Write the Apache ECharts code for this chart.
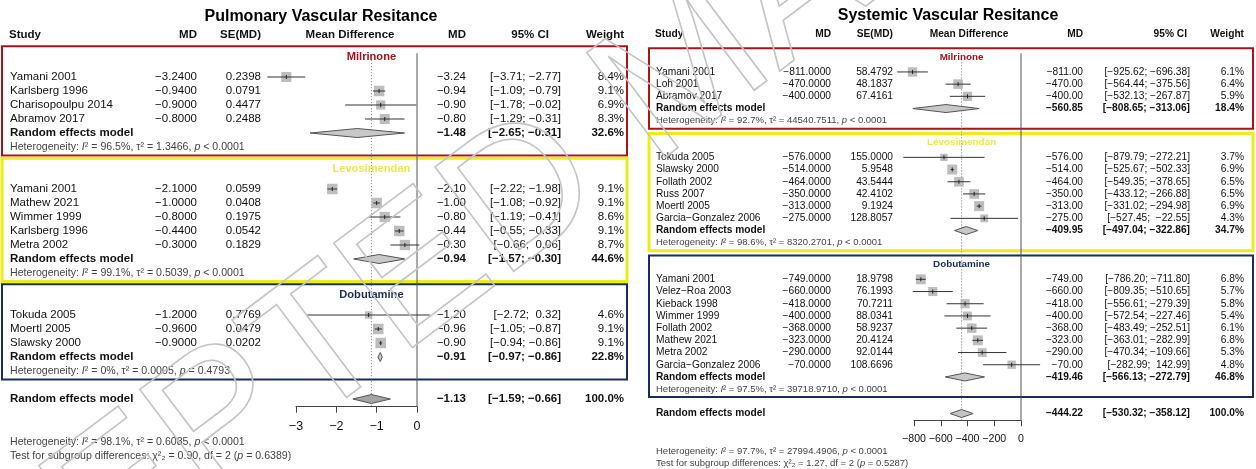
<!DOCTYPE html>
<html><head><meta charset="utf-8">
<script src="https://cdn.jsdelivr.net/npm/echarts@6/dist/echarts.min.js"></script>
<style>html,body{margin:0;padding:0;background:#fff}#c{width:1256px;height:469px}</style>
</head><body><div id="c"></div>
<script>
// ================= DATA =================
const groupNames = ['Milrinone', 'Levosimendan', 'Dobutamine'];

// --- Pulmonary Vascular Resistance ---
const pvrTitle = 'Pulmonary Vascular Resitance';
const pvrStudy = ['Yamani 2001', 'Karlsberg 1996', 'Charisopoulpu 2014', 'Abramov 2017',
  'Yamani 2001', 'Mathew 2021', 'Wimmer 1999', 'Karlsberg 1996', 'Metra 2002',
  'Tokuda 2005', 'Moertl 2005', 'Slawsky 2000'];
const pvrGroup = [0, 0, 0, 0, 1, 1, 1, 1, 1, 2, 2, 2];
const pvrMD = [-3.24, -0.94, -0.90, -0.80, -2.10, -1.00, -0.80, -0.44, -0.30, -1.20, -0.96, -0.90];
const pvrSE = [0.2398, 0.0791, 0.4477, 0.2488, 0.0599, 0.0408, 0.1975, 0.0542, 0.1829, 0.7769, 0.0479, 0.0202];
const pvrLo = [-3.71, -1.09, -1.78, -1.29, -2.22, -1.08, -1.19, -0.55, -0.66, -2.72, -1.05, -0.94];
const pvrHi = [-2.77, -0.79, -0.02, -0.31, -1.98, -0.92, -0.41, -0.33, 0.06, 0.32, -0.87, -0.86];
const pvrWeight = [8.4, 9.1, 6.9, 8.3, 9.1, 9.1, 8.6, 9.1, 8.7, 4.6, 9.1, 9.1];
// pooled: Milrinone, Levosimendan, Dobutamine, overall
const pvrPoolMD = [-1.48, -0.94, -0.91, -1.13];
const pvrPoolLo = [-2.65, -1.57, -0.97, -1.59];
const pvrPoolHi = [-0.31, -0.30, -0.86, -0.66];
const pvrPoolW = [32.6, 44.6, 22.8, 100.0];
const pvrI2 = ['96.5%', '99.1%', '0%', '98.1%'];
const pvrTau2 = ['1.3466', '0.5039', '0.0005', '0.6085'];
const pvrP = ['< 0.0001', '< 0.0001', '= 0.4793', '< 0.0001'];
const pvrSubgroupTest = ['0.90', '2', '0.6389'];
const pvrTicks = [-3, -2, -1, 0];

// --- Systemic Vascular Resistance ---
const svrTitle = 'Systemic Vascular Resitance';
const svrStudy = ['Yamani 2001', 'Loh 2001', 'Abramov 2017',
  'Tokuda 2005', 'Slawsky 2000', 'Follath 2002', 'Russ 2007', 'Moertl 2005', 'Garcia\u2212Gonzalez 2006',
  'Yamani 2001', 'Velez\u2212Roa 2003', 'Kieback 1998', 'Wimmer 1999', 'Follath 2002', 'Mathew 2021', 'Metra 2002', 'Garcia\u2212Gonzalez 2006'];
const svrGroup = [0, 0, 0, 1, 1, 1, 1, 1, 1, 2, 2, 2, 2, 2, 2, 2, 2];
const svrMD = [-811, -470, -400, -576, -514, -464, -350, -313, -275, -749, -660, -418, -400, -368, -323, -290, -70];
const svrSE = [58.4792, 48.1837, 67.4161, 155.0000, 5.9548, 43.5444, 42.4102, 9.1924, 128.8057,
  18.9798, 76.1993, 70.7211, 88.0341, 58.9237, 20.4124, 92.0144, 108.6696];
const svrLo = [-925.62, -564.44, -532.13, -879.79, -525.67, -549.35, -433.12, -331.02, -527.45,
  -786.20, -809.35, -556.61, -572.54, -483.49, -363.01, -470.34, -282.99];
const svrHi = [-696.38, -375.56, -267.87, -272.21, -502.33, -378.65, -266.88, -294.98, -22.55,
  -711.80, -510.65, -279.39, -227.46, -252.51, -282.99, -109.66, 142.99];
const svrWeight = [6.1, 6.4, 5.9, 3.7, 6.9, 6.5, 6.5, 6.9, 4.3, 6.8, 5.7, 5.8, 5.4, 6.1, 6.8, 5.3, 4.8];
const svrPoolMD = [-560.85, -409.95, -419.46, -444.22];
const svrPoolLo = [-808.65, -497.04, -566.13, -530.32];
const svrPoolHi = [-313.06, -322.86, -272.79, -358.12];
const svrPoolW = [18.4, 34.7, 46.8, 100.0];
const svrI2 = ['92.7%', '98.6%', '97.5%', '97.7%'];
const svrTau2 = ['44540.7511', '8320.2701', '39718.9710', '27994.4906'];
const svrP = ['< 0.0001', '< 0.0001', '< 0.0001', '< 0.0001'];
const svrSubgroupTest = ['1.27', '2', '0.5287'];
const svrTicks = [-800, -600, -400, -200, 0];

const watermarkText = 'ACCEPTED MANUSCRIPT';

// ================= STYLE / LAYOUT =================
const FONT = "'Liberation Sans', Arial, Helvetica, sans-serif";
const groupColors = ['#a8141c', '#eded1a', '#1b2e57'];
const groupLabelColors = ['#a0151c', '#eaea4a', '#1b2e57'];
const groupBoxWidth = [2, 3, 2];

const layouts = [
  { y0: 35, unit: 14, first: 3, topOff: -2.2, labelOff: -1.4, botOff: 0.6, hetGap: 3, ovGap: 2, axisOff: 0.55,
    titleRow: -1.29, box: [2, 627], gridLeft: 296, gridWidth: 121, titleX: 321,
    cols: { study: 10, md: 197, se: 261, mdh: 350, md2: 466, ci: 561, cih: 549, w: 624 },
    font: 11.5, hetFont: 10.6, titleFont: 16, tickFont: 12.5, sqMax: 10.5, diaH: 4.5, overallFill: '#a4a4a4', mdDec: 4 },
  { y0: 34, unit: 12.2, first: 3.11, topOff: -1.95, labelOff: -1.23, botOff: 0.65, hetGap: 3, ovGap: 2, axisOff: 0.55,
    titleRow: -1.5, box: [649, 1253], gridLeft: 914, gridWidth: 107, titleX: 948,
    cols: { study: 656, md: 831, se: 893, mdh: 969, md2: 1083, ci: 1190, cih: 1187, w: 1244 },
    font: 10.2, hetFont: 9.5, titleFont: 16, tickFont: 10.6, sqMax: 10, diaH: 4, overallFill: '#c4c4c4', mdDec: 4 }
];

const panels = [
  { title: pvrTitle, study: pvrStudy, group: pvrGroup, md: pvrMD, se: pvrSE, lo: pvrLo, hi: pvrHi, w: pvrWeight,
    pmd: pvrPoolMD, plo: pvrPoolLo, phi: pvrPoolHi, pw: pvrPoolW, i2: pvrI2, tau2: pvrTau2, p: pvrP, sub: pvrSubgroupTest, ticks: pvrTicks },
  { title: svrTitle, study: svrStudy, group: svrGroup, md: svrMD, se: svrSE, lo: svrLo, hi: svrHi, w: svrWeight,
    pmd: svrPoolMD, plo: svrPoolLo, phi: svrPoolHi, pw: svrPoolW, i2: svrI2, tau2: svrTau2, p: svrP, sub: svrSubgroupTest, ticks: svrTicks }
];

// ================= HELPERS =================
const minus = s => String(s).replace(/-/g, '\u2212');
function txt(x, y, s, o) {
  o = o || {};
  const st = {
    text: s, x: x, y: y, fill: o.fill || '#111', fontFamily: FONT, fontSize: o.size,
    fontWeight: o.bold ? 'bold' : 'normal', textAlign: o.align || 'left', textVerticalAlign: 'middle'
  };
  if (o.rich) st.rich = o.rich;
  return { type: 'text', z2: 20, silent: true, style: st };
}
function ciStrings(lo, hi) {
  const L = lo.map(v => minus(v.toFixed(2))), H = hi.map(v => minus(v.toFixed(2)));
  const wl = Math.max(...L.map(s => s.length)), wh = Math.max(...H.map(s => s.length));
  return L.map((s, i) => '[' + s.padStart(wl, ' ') + '; ' + H[i].padStart(wh, ' ') + ']');
}
function hetText(i2, tau2, p) {
  return 'Heterogeneity: {i|I}\u00b2 = ' + i2 + ', \u03c4\u00b2 = ' + tau2 + ', {i|p} ' + p;
}

function buildItems(d, lay) {
  const items = [];
  const nS = d.study.length;
  const ci = ciStrings(d.lo.concat(d.plo), d.hi.concat(d.phi));
  const maxW = Math.max(...d.w);
  const c = lay.cols;
  const F = lay.font;
  const italicRich = { i: { fontStyle: 'italic', fontFamily: FONT, fontSize: lay.hetFont, fill: '#444' } };
  let r = lay.first;
  const gInfo = [];
  for (let g = 0; g < groupNames.length; g++) {
    const idx = d.group.map((v, i) => v === g ? i : -1).filter(i => i >= 0);
    const gi = { top: r + lay.topOff, label: r + lay.labelOff, rows: idx.map((_, k) => r + k), idx: idx };
    gi.rem = r + idx.length; gi.het = gi.rem + 1; gi.bottom = gi.het + lay.botOff;
    gInfo.push(gi);
    r = gi.het + lay.hetGap;
  }
  const ovRow = gInfo[gInfo.length - 1].het + lay.ovGap;
  const axisRow = ovRow + lay.axisOff;
  const ovMD = d.pmd[3];
  const lineTop = gInfo[0].label - 0.3;

  gInfo.forEach((gi, g) => {
    items.push({ row: gi.top, draw: (X, Y) => ({
      type: 'rect', z2: 1, silent: true,
      shape: { x: lay.box[0], y: Y(gi.top), width: lay.box[1] - lay.box[0], height: Y(gi.bottom) - Y(gi.top) },
      style: { fill: 'none', stroke: groupColors[g], lineWidth: groupBoxWidth[g] }
    }) });
  });
  items.push({ row: 0, draw: (X, Y) => ({
    type: 'line', z2: 3, silent: true,
    shape: { x1: X(0), y1: Y(lineTop), x2: X(0), y2: Y(axisRow) },
    style: { stroke: '#555', lineWidth: 1 } }) });
  items.push({ row: 0, draw: (X, Y) => ({
    type: 'line', z2: 3, silent: true,
    shape: { x1: X(ovMD), y1: Y(gInfo[0].label + 0.2), x2: X(ovMD), y2: Y(axisRow) },
    style: { stroke: '#777', lineWidth: 1, lineDash: [1, 2] } }) });

  items.push({ row: lay.titleRow, draw: (X, Y) => txt(lay.titleX, Y(lay.titleRow), d.title, { size: lay.titleFont, bold: true, align: 'center', fill: '#000' }) });
  items.push({ row: 0, draw: (X, Y) => {
    const y = Y(0), o = { size: F, bold: true, fill: '#111' };
    return { type: 'group', children: [
      txt(c.study - 1, y, 'Study', o),
      txt(c.md, y, 'MD', Object.assign({ align: 'right' }, o)),
      txt(c.se, y, 'SE(MD)', Object.assign({ align: 'right' }, o)),
      txt(c.mdh, y, 'Mean Difference', Object.assign({ align: 'center' }, o)),
      txt(c.md2, y, 'MD', Object.assign({ align: 'right' }, o)),
      txt(c.cih, y, '95% CI', Object.assign({ align: 'right' }, o)),
      txt(c.w, y, 'Weight', Object.assign({ align: 'right' }, o))
    ] };
  } });

  gInfo.forEach((gi, g) => {
    items.push({ row: gi.label, draw: (X, Y) => txt(X(ovMD), Y(gi.label), groupNames[g],
      { size: F * 0.97, bold: true, align: 'center', fill: groupLabelColors[g] }) });
    gi.idx.forEach((si, k) => {
      const row = gi.rows[k];
      items.push({ row: row, draw: (X, Y) => {
        const y = Y(row);
        const xm = X(d.md[si]);
        const s = lay.sqMax * Math.sqrt(d.w[si] / maxW);
        return { type: 'group', children: [
          { type: 'rect', z2: 5, silent: true, shape: { x: xm - s / 2, y: y - s / 2, width: s, height: s }, style: { fill: '#bdbdbd' } },
          { type: 'line', z2: 6, silent: true, shape: { x1: X(d.lo[si]), y1: y, x2: X(d.hi[si]), y2: y }, style: { stroke: '#333', lineWidth: 1 } },
          { type: 'line', z2: 6, silent: true, shape: { x1: xm, y1: y - 2, x2: xm, y2: y + 2 }, style: { stroke: '#222', lineWidth: 1 } },
          txt(c.study, y, d.study[si], { size: F }),
          txt(c.md, y, minus(d.md[si].toFixed(lay.mdDec)), { size: F, align: 'right' }),
          txt(c.se, y, d.se[si].toFixed(4), { size: F, align: 'right' }),
          txt(c.md2, y, minus(d.md[si].toFixed(2)), { size: F, align: 'right' }),
          txt(c.ci, y, ci[si], { size: F, align: 'right' }),
          txt(c.w, y, d.w[si].toFixed(1) + '%', { size: F, align: 'right' })
        ] };
      } });
    });
    items.push({ row: gi.rem, draw: (X, Y) => poolRow(X, Y, gi.rem, g, '#c8c8c8') });
    items.push({ row: gi.het, draw: (X, Y) => txt(c.study, Y(gi.het), hetText(d.i2[g], d.tau2[g], d.p[g]),
      { size: lay.hetFont, fill: '#444', rich: italicRich }) });
  });

  function poolRow(X, Y, row, k, fill) {
    const y = Y(row), h = lay.diaH;
    return { type: 'group', children: [
      { type: 'polygon', z2: 5, silent: true,
        shape: { points: [[X(d.plo[k]), y], [X(d.pmd[k]), y - h], [X(d.phi[k]), y], [X(d.pmd[k]), y + h]] },
        style: { fill: fill, stroke: '#555', lineWidth: 1 } },
      txt(c.study, y, 'Random effects model', { size: F, bold: true }),
      txt(c.md2, y, minus(d.pmd[k].toFixed(2)), { size: F, bold: true, align: 'right' }),
      txt(c.ci, y, ci[nS + k], { size: F, bold: true, align: 'right' }),
      txt(c.w, y, d.pw[k].toFixed(1) + '%', { size: F, bold: true, align: 'right' })
    ] };
  }
  items.push({ row: ovRow, draw: (X, Y) => poolRow(X, Y, ovRow, 3, lay.overallFill) });
  const hetRow = ovRow + 3.1, testRow = ovRow + 4.05;
  items.push({ row: hetRow, draw: (X, Y) => txt(c.study, Y(hetRow), hetText(d.i2[3], d.tau2[3], d.p[3]),
    { size: lay.hetFont, fill: '#444', rich: italicRich }) });
  items.push({ row: testRow, draw: (X, Y) => txt(c.study, Y(testRow),
    'Test for subgroup differences: \u03c7\u00b2\u2082 = ' + d.sub[0] + ', df = ' + d.sub[1] + ' ({i|p} = ' + d.sub[2] + ')',
    { size: lay.hetFont, fill: '#444', rich: italicRich }) });

  return { items: items, axisRow: axisRow };
}

// ================= CHART =================
const chart = echarts.init(document.getElementById('c'), null, { renderer: 'canvas' });
const grids = [], xAxes = [], yAxes = [], series = [];
panels.forEach((d, pi) => {
  const lay = layouts[pi];
  const m = buildItems(d, lay);
  grids.push({ left: lay.gridLeft, top: lay.y0, width: lay.gridWidth, height: m.axisRow * lay.unit });
  xAxes.push({
    gridIndex: pi, type: 'value', min: d.ticks[0], max: d.ticks[d.ticks.length - 1], interval: d.ticks[1] - d.ticks[0],
    axisLine: { show: true, onZero: false, lineStyle: { color: '#444', width: 1 } },
    axisTick: { show: true, inside: false, length: 6, lineStyle: { color: '#444' } },
    axisLabel: { color: '#111', fontSize: lay.tickFont, fontFamily: FONT, margin: 13, formatter: v => minus(v) },
    splitLine: { show: false }
  });
  yAxes.push({ gridIndex: pi, type: 'value', min: 0, max: m.axisRow, inverse: true, show: false });
  series.push({
    type: 'custom', xAxisIndex: pi, yAxisIndex: pi, clip: false, silent: true, animation: false,
    encode: { x: 0, y: 1 },
    data: m.items.map(it => [0, it.row]),
    renderItem: function (params, api) {
      const it = m.items[params.dataIndex];
      const X = v => api.coord([v, 0])[0];
      const Y = r => api.coord([0, r])[1];
      return it.draw(X, Y);
    }
  });
});

chart.setOption({
  animation: false,
  backgroundColor: '#fff',
  grid: grids, xAxis: xAxes, yAxis: yAxes, series: series,
  graphic: [{
    type: 'text', x: -247, y: 779, rotation: 37 * Math.PI / 180, z: 100, silent: true,
    style: { text: watermarkText, fontSize: 190, fontFamily: FONT, fill: 'rgba(255,255,255,0)',
      stroke: '#c4c4c4', lineWidth: 1.6, textAlign: 'left', textVerticalAlign: 'middle' }
  }]
});
</script>
</body></html>
